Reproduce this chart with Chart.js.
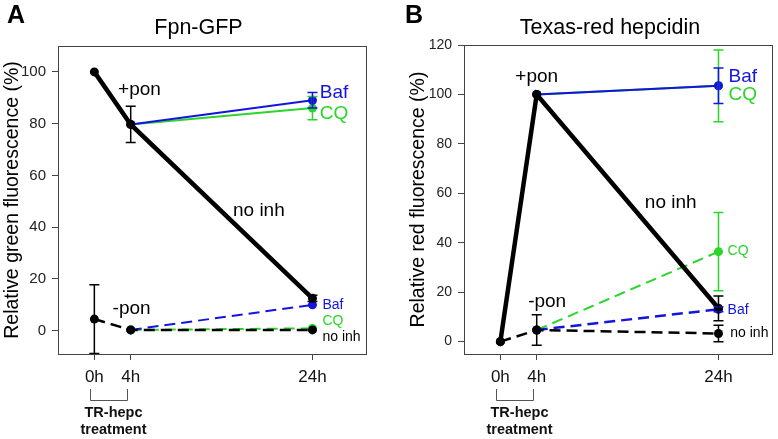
<!DOCTYPE html>
<html>
<head>
<meta charset="utf-8">
<script src="https://cdn.jsdelivr.net/npm/chart.js@4"></script>
<style>
    body { margin: 0; background: #fff; width: 778px; height: 439px; position: relative; overflow: hidden; }
    .panel { position: absolute; top: 0; height: 439px; }
</style>
</head>
<body>
<div class="panel" style="left:0; width:390px;"><canvas id="chartA" width="390" height="439"></canvas></div>
<div class="panel" style="left:390px; width:388px;"><canvas id="chartB" width="388" height="439"></canvas></div>
<script>
// time points (hours) and their tick labels
const hours = [0, 4, 24];
const hourLabels = ['0h', '4h', '24h'];
const ticksA = [0, 20, 40, 60, 80, 100];
const ticksB = [0, 20, 40, 60, 80, 100, 120];

// Panel A - Fpn-GFP, relative green fluorescence (%)
const aNoInhPon = [100, 79.7, 12.5];
const aNoInhPonErr = [0, 7, 1.2];
const aBafPon = [null, 79.7, 89];
const aBafPonErr = [0, 0, 3];
const aCqPon = [null, 79.7, 86];
const aCqPonErr = [0, 0, 4.5];
const aNoInhNoPon = [4.5, 0.3, 0.3];
const aNoInhNoPonErr = [13.3, 0, 0];
const aBafNoPon = [null, 0.3, 10];
const aCqNoPon = [null, 0.3, 0.9];

// Panel B - Texas-red hepcidin, relative red fluorescence (%)
const bNoInhPon = [0, 100, 13.5];
const bNoInhPonErr = [0, 0, 5];
const bBafPon = [null, 100, 103.5];
const bBafPonErr = [0, 0, 7.2];
const bCqPon = [null, 100, 103.5];
const bCqPonErr = [0, 0, 14.5];
const bNoInhNoPon = [0, 4.7, 3.3];
const bNoInhNoPonErr = [0, 6.2, 3.3];
const bBafNoPon = [null, 4.7, 13.1];
const bBafNoPonErr = [0, 0, 1];
const bCqNoPon = [null, 4.7, 36.4];
const bCqNoPonErr = [0, 0, 15.8];

const BLACK = '#000000';
const BLUE = '#1414e0';
const GREEN = '#2ad62a';
const FONT = 'Liberation Sans, Arial, sans-serif';

function pts(ys) {
    return hours.map((h, i) => ys[i] == null ? null : { x: h, y: ys[i] }).filter(p => p);
}

function series(ys, errs, color, width, dashed) {
    return {
        data: pts(ys),
        errs: errs ? hours.map((h, i) => ys[i] == null ? null : errs[i]) .filter(e => e !== null) : null,
        showLine: true,
        borderColor: color,
        backgroundColor: color,
        borderWidth: width,
        borderDash: dashed ? [11, 6] : [],
        pointRadius: 4.5,
        pointBorderWidth: 0,
        pointBackgroundColor: color
    };
}

// error bars drawn from the errs arrays
const errorBars = {
    id: 'errorBars',
    afterDatasetsDraw(chart) {
        const ctx = chart.ctx;
        const ys = chart.scales.y;
        const ds = chart.data.datasets;
        for (let d = ds.length - 1; d >= 0; d--) {
            const set = ds[d];
            if (!set.errs) continue;
            const meta = chart.getDatasetMeta(d);
            ctx.save();
            ctx.strokeStyle = set.borderColor;
            ctx.lineWidth = 1.5;
            set.data.forEach((p, i) => {
                const e = set.errs[i];
                if (!e) return;
                const x = meta.data[i].x;
                const y1 = ys.getPixelForValue(p.y - e);
                const y2 = ys.getPixelForValue(p.y + e);
                ctx.beginPath();
                ctx.moveTo(x, y1); ctx.lineTo(x, y2);
                ctx.moveTo(x - 5, y1); ctx.lineTo(x + 5, y1);
                ctx.moveTo(x - 5, y2); ctx.lineTo(x + 5, y2);
                ctx.stroke();
            });
            ctx.restore();
        }
    }
};

// frame, title, panel letter, text notes and the treatment bracket
const decor = {
    id: 'decor',
    afterDraw(chart, args, opts) {
        const ctx = chart.ctx;
        const a = chart.chartArea;
        const xs = chart.scales.x, ys = chart.scales.y;
        ctx.save();
        ctx.strokeStyle = '#444';
        ctx.lineWidth = 1;
        ctx.strokeRect(a.left + 0.5, a.top + 0.5, a.right - a.left - 1, a.bottom - a.top);

        ctx.fillStyle = '#000';
        ctx.textBaseline = 'middle';
        ctx.textAlign = 'left';
        ctx.font = 'bold 25px ' + FONT;
        ctx.fillText(opts.letter, opts.letterX, 16);
        ctx.textAlign = 'center';
        ctx.font = '21.5px ' + FONT;
        ctx.fillText(opts.title, opts.titleX, 28);

        opts.notes.forEach(n => {
            ctx.fillStyle = n.color;
            ctx.font = n.size + 'px ' + FONT;
            ctx.textAlign = n.align;
            ctx.fillText(n.text, xs.getPixelForValue(n.x), ys.getPixelForValue(n.y));
        });

        // bracket under 0h-4h
        const bx1 = Math.round(xs.getPixelForValue(0)) - 3.5;
        const bx2 = Math.round(xs.getPixelForValue(4)) - 3.5;
        ctx.strokeStyle = '#555';
        ctx.beginPath();
        ctx.moveTo(bx1, 389); ctx.lineTo(bx1, 400.5); ctx.lineTo(bx2, 400.5); ctx.lineTo(bx2, 389);
        ctx.stroke();
        ctx.fillStyle = '#111';
        ctx.textAlign = 'center';
        ctx.font = 'bold 14.5px ' + FONT;
        const mid = (bx1 + bx2) / 2 + 4.5;
        ctx.fillText('TR-hepc', mid, 413);
        ctx.fillText('treatment', mid, 430);
        ctx.restore();
    }
};

function makePanel(id, cfg) {
    return new Chart(document.getElementById(id), {
        type: 'scatter',
        data: { datasets: cfg.datasets },
        plugins: [errorBars, decor],
        options: {
            responsive: false,
            devicePixelRatio: 1,
            animation: false,
            layout: { padding: { left: 0, top: cfg.top, right: cfg.right, bottom: 0 } },
            plugins: {
                legend: { display: false },
                tooltip: { enabled: false },
                decor: { letter: cfg.letter, letterX: cfg.letterX, title: cfg.title, titleX: cfg.titleX, notes: cfg.notes }
            },
            scales: {
                x: {
                    type: 'linear', min: -4, max: 30,
                    afterBuildTicks: s => { s.ticks = hours.map(v => ({ value: v })); },
                    afterFit: s => { s.height = 439 - cfg.bottom; },
                    ticks: {
                        callback: v => hourLabels[hours.indexOf(v)],
                        font: { family: FONT, size: 17 }, color: '#111',
                        padding: 7, maxRotation: 0, autoSkip: false
                    },
                    grid: { drawOnChartArea: false, tickLength: 6, color: '#444' },
                    border: { display: false }
                },
                y: {
                    min: cfg.ymin, max: cfg.ymax,
                    afterBuildTicks: s => { s.ticks = cfg.yticks.map(v => ({ value: v })); },
                    afterFit: s => { s.width = cfg.left; },
                    ticks: { font: { family: FONT, size: cfg.tickSize }, color: '#222', padding: 6 },
                    grid: { drawOnChartArea: false, tickLength: 6, color: '#444' },
                    border: { display: false },
                    title: {
                        display: true, text: cfg.yTitle, color: '#000',
                        font: { family: FONT, size: 19.5 },
                        padding: { top: cfg.titlePad, bottom: 0 }
                    }
                }
            }
        }
    });
}

makePanel('chartA', {
    letter: 'A', letterX: 7, title: 'Fpn-GFP', titleX: 198.5,
    top: 46, right: 23, left: 58, bottom: 354,
    ymin: -9, ymax: 110, yticks: ticksA, tickSize: 15, titlePad: 1,
    yTitle: 'Relative green fluorescence (%)',
    datasets: [
        series(aNoInhPon, aNoInhPonErr, BLACK, 4.5, false),
        series(aNoInhNoPon, aNoInhNoPonErr, BLACK, 2.5, true),
        series(aBafPon, aBafPonErr, BLUE, 2, false),
        series(aBafNoPon, null, BLUE, 2, true),
        series(aCqPon, aCqPonErr, GREEN, 2, false),
        series(aCqNoPon, null, GREEN, 2, true)
    ],
    notes: [
        { text: '+pon', x: 4.96, y: 92.9, color: BLACK, size: 19, align: 'center' },
        { text: 'no inh', x: 18.1, y: 46.5, color: BLACK, size: 19, align: 'center' },
        { text: '-pon', x: 4.1, y: 8.4, color: BLACK, size: 19, align: 'center' },
        { text: 'Baf', x: 24.8, y: 92, color: BLUE, size: 19, align: 'left' },
        { text: 'CQ', x: 24.8, y: 84, color: GREEN, size: 19, align: 'left' },
        { text: 'Baf', x: 25.1, y: 9.9, color: BLUE, size: 14, align: 'left' },
        { text: 'CQ', x: 25.1, y: 3.7, color: GREEN, size: 14, align: 'left' },
        { text: 'no inh', x: 25.1, y: -2.4, color: BLACK, size: 14, align: 'left' }
    ]
});

makePanel('chartB', {
    letter: 'B', letterX: 15, title: 'Texas-red hepcidin', titleX: 220,
    top: 45, right: 5, left: 74, bottom: 354,
    ymin: -5, ymax: 120, yticks: ticksB, tickSize: 14, titlePad: 17,
    yTitle: 'Relative red fluorescence (%)',
    datasets: [
        series(bNoInhPon, bNoInhPonErr, BLACK, 4.5, false),
        series(bNoInhNoPon, bNoInhNoPonErr, BLACK, 2.5, true),
        series(bBafPon, bBafPonErr, BLUE, 2, false),
        series(bBafNoPon, bBafNoPonErr, BLUE, 2.5, true),
        series(bCqPon, bCqPonErr, GREEN, 2, false),
        series(bCqNoPon, bCqNoPonErr, GREEN, 2, true)
    ],
    notes: [
        { text: '+pon', x: 4.0, y: 107, color: BLACK, size: 19, align: 'center' },
        { text: 'no inh', x: 18.75, y: 56, color: BLACK, size: 19, align: 'center' },
        { text: '-pon', x: 5.15, y: 16, color: BLACK, size: 19, align: 'center' },
        { text: 'Baf', x: 25.1, y: 107, color: BLUE, size: 19, align: 'left' },
        { text: 'CQ', x: 25.1, y: 99.8, color: GREEN, size: 19, align: 'left' },
        { text: 'CQ', x: 25.0, y: 36.6, color: GREEN, size: 14, align: 'left' },
        { text: 'Baf', x: 25.0, y: 12.8, color: BLUE, size: 14, align: 'left' },
        { text: 'no inh', x: 25.3, y: 3.5, color: BLACK, size: 14, align: 'left' }
    ]
});
</script>
</body>
</html>
